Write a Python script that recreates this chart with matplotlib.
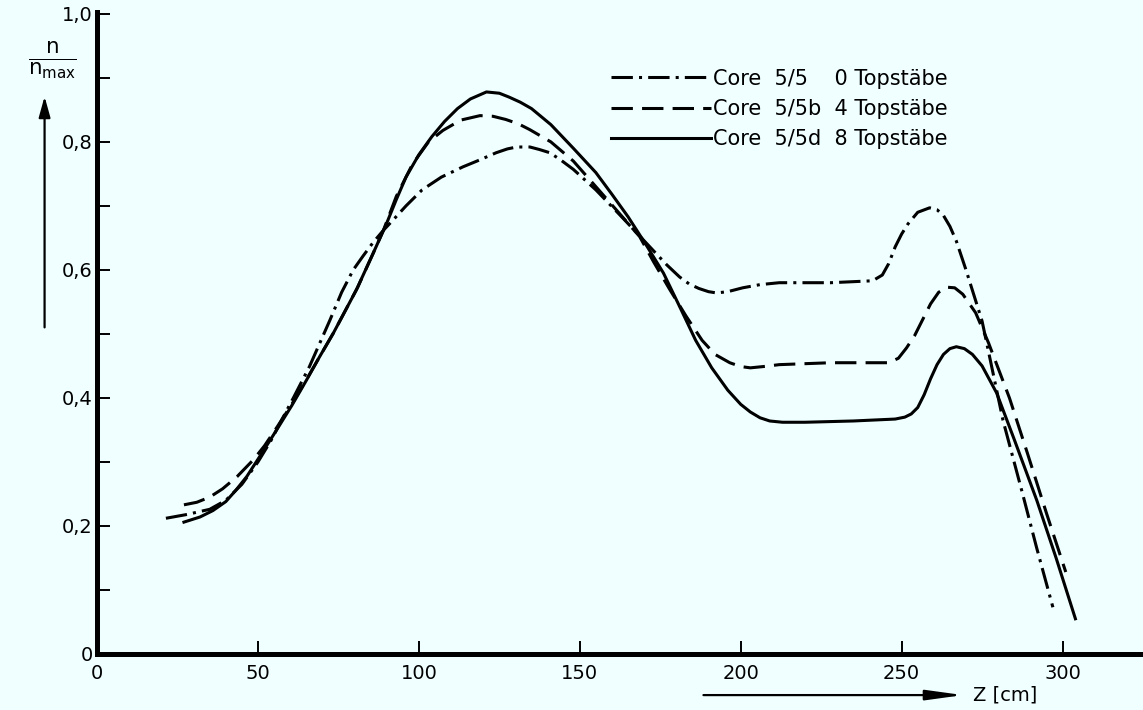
import numpy as np
import matplotlib
matplotlib.use("Agg")
import matplotlib.pyplot as plt

# values (z in cm, n/n_max)
z_core0 = [21.4, 28, 35, 40, 45, 50, 54, 57, 61, 66, 72.4, 76, 79.6, 82.7, 85.8,
           89, 92, 96, 101, 107, 113.7, 119, 124, 127.5, 130.4, 134.5, 137.5,
           140.7, 144, 148, 155, 163, 172.7, 177, 181, 184, 187, 190, 192.5, 196,
           200.6, 206, 212, 228, 241, 244, 246, 248, 250, 252, 255, 258.7, 261,
           263, 265, 267, 270, 275, 281.5, 287.6, 292, 297]
n_core0 = [0.212, 0.218, 0.226, 0.24, 0.265, 0.3, 0.333, 0.362, 0.4, 0.449, 0.522,
           0.565, 0.6, 0.622, 0.643, 0.662, 0.678, 0.7, 0.725, 0.745, 0.761, 0.772,
           0.783, 0.789, 0.792, 0.792, 0.788, 0.783, 0.772, 0.757, 0.725, 0.683,
           0.631, 0.608, 0.589, 0.578, 0.571, 0.566, 0.564, 0.566, 0.572, 0.577,
           0.58, 0.58, 0.583, 0.592, 0.61, 0.636, 0.656, 0.672, 0.69, 0.697, 0.694,
           0.685, 0.668, 0.645, 0.6, 0.52, 0.365, 0.25, 0.165, 0.073]

z_core_b = [27, 31, 35, 39, 43.5, 48.5, 52, 56, 60.5, 65, 69, 73.4, 77, 81, 85.8,
            89, 93, 98, 103, 107.5, 113, 119, 123, 127, 131, 134.5, 141, 148, 155,
            162, 168.6, 173, 178, 183, 188, 192, 196.6, 200, 203, 207, 212, 228,
            246, 249, 251.5, 254, 256.5, 259, 261.5, 264, 266.5, 269, 273, 277,
            283.5, 289, 295, 301]
n_core_b = [0.233, 0.237, 0.245, 0.258, 0.277, 0.303, 0.325, 0.355, 0.39, 0.428,
            0.463, 0.501, 0.535, 0.573, 0.626, 0.662, 0.715, 0.765, 0.8, 0.818,
            0.834, 0.841, 0.84, 0.835, 0.828, 0.819, 0.8, 0.77, 0.73, 0.69, 0.652,
            0.612, 0.569, 0.528, 0.49, 0.468, 0.455, 0.449, 0.447, 0.449, 0.452,
            0.455, 0.455, 0.462, 0.478, 0.497, 0.522, 0.547, 0.565, 0.573, 0.572,
            0.562, 0.533, 0.486, 0.40, 0.315, 0.22, 0.128]

z_core_d = [27, 32, 36, 40, 43, 46.5, 51, 55.8, 60.5, 65.1, 69, 73.4, 77, 80.6,
            85.8, 90, 93, 96, 100, 104, 108, 112, 116, 121, 125, 128, 131.5, 135,
            141, 148, 155, 160, 165, 170.5, 176, 181, 186, 191, 196, 200, 203, 206,
            209, 213, 220, 235, 248, 251, 253, 255, 257, 259, 261, 263, 265, 267,
            269.5, 272, 275, 279.5, 285, 292, 298, 304]
n_core_d = [0.206, 0.214, 0.224, 0.238, 0.255, 0.277, 0.312, 0.35, 0.388, 0.428,
            0.463, 0.501, 0.535, 0.569, 0.626, 0.673, 0.71, 0.745, 0.78, 0.808,
            0.832, 0.852, 0.867, 0.878, 0.876, 0.87, 0.862, 0.852, 0.827, 0.79,
            0.752, 0.718, 0.683, 0.64, 0.595, 0.543, 0.49, 0.447, 0.412, 0.39,
            0.378, 0.369, 0.364, 0.362, 0.362, 0.364, 0.367, 0.37, 0.375, 0.385,
            0.405, 0.43, 0.452, 0.468, 0.477, 0.48, 0.477, 0.468, 0.45, 0.408,
            0.335, 0.24, 0.15, 0.055]

labels = ["Core  5/5    0 Topstäbe", "Core  5/5b  4 Topstäbe", "Core  5/5d  8 Topstäbe"]

x_ticks = [0, 50, 100, 150, 200, 250, 300]
y_ticks = [0, 0.2, 0.4, 0.6, 0.8, 1.0]
y_tick_labels = ["0", "0,2", "0,4", "0,6", "0,8", "1,0"]

bg = "#f0ffff"
plt.rcParams['font.family'] = ['DejaVu Sans']

fig = plt.figure(figsize=(11.43, 7.1), dpi=100, facecolor=bg)
ax = fig.add_axes([0.0849, 0.0789, 0.9151, 0.9043])
ax.set_facecolor(bg)

lw = 2.2
ax.plot(z_core0, n_core0, color="black", lw=lw, ls=(0, (7, 2, 1, 2)), label=labels[0])
ax.plot(z_core_b, n_core_b, color="black", lw=lw, ls=(0, (7, 3)), label=labels[1])
ax.plot(z_core_d, n_core_d, color="black", lw=lw, ls="-", label=labels[2])

ax.set_xlim(0, 325)
ax.set_ylim(0, 1.003)
ax.set_xticks(x_ticks)
ax.set_yticks(y_ticks)
ax.set_yticklabels(y_tick_labels)
ax.set_yticks([0.1, 0.3, 0.5, 0.7, 0.9], minor=True)
ax.tick_params(axis="both", which="both", direction="in", length=9.5, width=1.4,
               labelsize=14)
ax.tick_params(axis="x", pad=7)
ax.tick_params(axis="y", pad=3)

for side in ["top", "right"]:
    ax.spines[side].set_visible(False)
for side in ["left", "bottom"]:
    ax.spines[side].set_linewidth(3.6)

leg = ax.legend(loc="upper left", bbox_to_anchor=(0.481, 0.928), frameon=False,
                handlelength=4.8, handletextpad=0.12, labelspacing=0.5,
                fontsize=15, borderpad=0)

# y label: n / n_max with upward arrow
fig.text(0.046, 0.915, r"$\frac{\mathrm{n}}{\mathrm{n_{max}}}$", fontsize=22,
         ha="center", va="center")
fig.patches.append(matplotlib.patches.FancyArrowPatch(
    (0.039, 0.535), (0.039, 0.868), transform=fig.transFigure,
    arrowstyle="-|>,head_length=0.9,head_width=0.25", mutation_scale=14,
    color="black", lw=1.6))

# x label: arrow then Z [cm]
fig.patches.append(matplotlib.patches.FancyArrowPatch(
    (0.613, 0.021), (0.845, 0.021), transform=fig.transFigure,
    arrowstyle="-|>,head_length=1.6,head_width=0.22", mutation_scale=14,
    color="black", lw=1.6))
fig.text(0.851, 0.021, "Z [cm]", fontsize=14, ha="left", va="center")

fig.savefig("out.png", dpi=100, facecolor=bg)
